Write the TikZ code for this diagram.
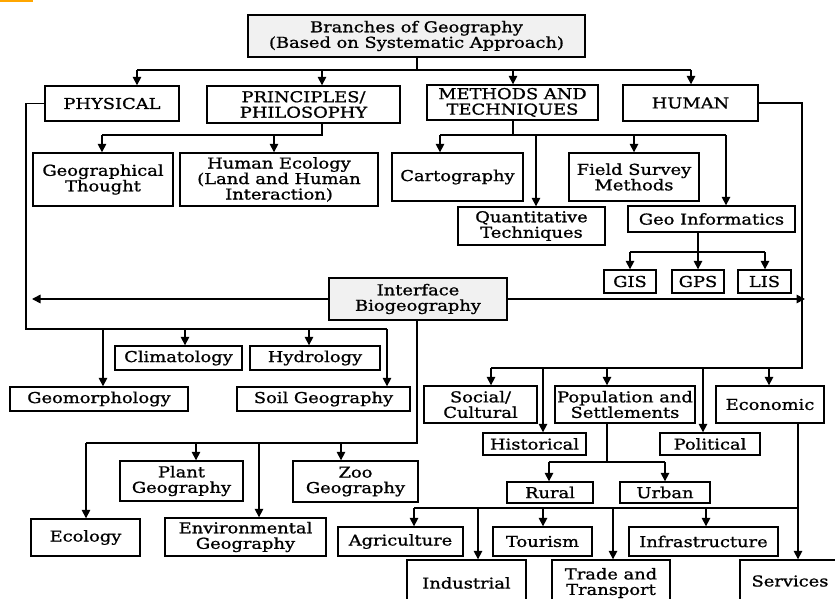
\documentclass[tikz,border=0pt]{standalone}
\usepackage{fontspec}
\setmainfont[FakeStretch=1.19,FakeBold=1]{DejaVu Serif}
\usetikzlibrary{arrows.meta}
\definecolor{scan}{HTML}{F1F1F1}
\tikzset{
  box/.style={draw, line width=1.4pt, align=center, inner sep=0pt, fill=white,
    font=\fontsize{15}{15.5}\selectfont},
  shaded/.style={box, fill=scan},
  ln/.style={line width=1.6pt},
  arr/.style={ln, -{Triangle[length=8.5pt,width=8.5pt]}}
}
\begin{document}
\begin{tikzpicture}[x=1pt,y=-1pt]
\useasboundingbox (0,0) rectangle (835,599);
\path[clip] (0,0) rectangle (835,599);
\fill[white] (0,0) rectangle (835,599);
\fill[orange!70!yellow] (0,0) rectangle (33,2);

% level 0/1
\node[shaded,minimum width=337pt,minimum height=42pt] (title) at (416.5,36) {Branches of Geography\\(Based on Systematic Approach)};
\node[box,minimum width=134pt,minimum height=35pt] (phys) at (112,103.5) {PHYSICAL};
\node[box,minimum width=193pt,minimum height=37pt] (princ) at (303.5,104.5) {PRINCIPLES/\\PHILOSOPHY};
\node[box,minimum width=171pt,minimum height=35pt] (meth) at (512.5,102.5) {METHODS AND\\TECHNIQUES};
\node[box,minimum width=135pt,minimum height=36pt] (human) at (690.5,103) {HUMAN};

% principles children
\node[box,minimum width=140pt,minimum height=53pt] (geoth) at (103,179.5) {Geographical\\Thought};
\node[box,minimum width=198pt,minimum height=53pt] (humeco) at (279,179.5) {Human Ecology\\(Land and Human\\Interaction)};

% methods children
\node[box,minimum width=131pt,minimum height=48pt] (carto) at (457.5,177) {Cartography};
\node[box,minimum width=130pt,minimum height=48pt] (field) at (634,177) {Field Survey\\Methods};
\node[box,minimum width=147pt,minimum height=38pt] (quant) at (531.5,226) {Quantitative\\Techniques};
\node[box,minimum width=167pt,minimum height=26pt] (geoinf) at (711.5,219) {Geo Informatics};
\node[box,minimum width=52pt,minimum height=23pt] (gis) at (630,281.5) {GIS};
\node[box,minimum width=52pt,minimum height=23pt] (gps) at (698,281.5) {GPS};
\node[box,minimum width=53pt,minimum height=23pt] (lis) at (764.5,281.5) {LIS};

% interface
\node[shaded,minimum width=178pt,minimum height=42pt] (iface) at (418,299) {Interface\\Biogeography};

% physical children
\node[box,minimum width=127pt,minimum height=24pt] (clim) at (178.5,358) {Climatology};
\node[box,minimum width=130pt,minimum height=24pt] (hydro) at (315,358) {Hydrology};
\node[box,minimum width=178pt,minimum height=24pt] (geom) at (99,399) {Geomorphology};
\node[box,minimum width=173pt,minimum height=24pt] (soil) at (323.5,399) {Soil Geography};

% biogeography children
\node[box,minimum width=123pt,minimum height=40pt] (plant) at (181.5,481) {Plant\\Geography};
\node[box,minimum width=125pt,minimum height=41pt] (zoo) at (355.5,481.5) {Zoo\\Geography};
\node[box,minimum width=109pt,minimum height=37pt] (ecol) at (85.5,537.5) {Ecology};
\node[box,minimum width=161pt,minimum height=38pt] (env) at (245.5,537) {Environmental\\Geography};

% human children
\node[box,minimum width=113pt,minimum height=37pt] (social) at (480.5,404.5) {Social/\\Cultural};
\node[box,minimum width=140pt,minimum height=37pt] (popul) at (625,404.5) {Population and\\Settlements};
\node[box,minimum width=108pt,minimum height=37pt] (econ) at (770,404.5) {Economic};
\node[box,minimum width=103pt,minimum height=22pt] (hist) at (534.5,444) {Historical};
\node[box,minimum width=100pt,minimum height=22pt] (polit) at (710,444) {Political};
\node[box,minimum width=86pt,minimum height=21pt] (rural) at (550,492.5) {Rural};
\node[box,minimum width=90pt,minimum height=21pt] (urban) at (665,492.5) {Urban};

% economic children
\node[box,minimum width=125pt,minimum height=29pt] (agri) at (400.5,541.5) {Agriculture};
\node[box,minimum width=99pt,minimum height=29pt] (tour) at (542.5,541.5) {Tourism};
\node[box,minimum width=149pt,minimum height=29pt] (infra) at (703.5,541.5) {Infrastructure};
\node[box,minimum width=119pt,minimum height=46pt] (indus) at (466.5,583) {Industrial};
\node[box,minimum width=118pt,minimum height=46pt] (trade) at (611,583) {Trade and\\Transport};
\node[box,minimum width=100pt,minimum height=42pt] (serv) at (790,581) {Services};

% ---- connectors ----
% title
\coordinate (t0) at (137,70);
\coordinate (t1) at (691,70);
\draw[ln] (title.south -| 417,0) -- (417,70);
\draw[ln] (t0) -- (t1);
\draw[arr] (t0) -- (t0 |- phys.north);
\draw[arr] (322,70) -- (322,70 |- princ.north);
\draw[arr] (513,70) -- (513,70 |- meth.north);
\draw[arr] (t1) -- (t1 |- human.north);

% principles
\draw[ln] (princ.south -| 322,0) -- (322,135) -- (102,135);
\draw[arr] (102,135) -- (102,135 |- geoth.north);
\draw[arr] (274,135) -- (274,135 |- humeco.north);

% methods
\draw[ln] (meth.south -| 513,0) -- (513,135);
\draw[ln] (440,135) -- (726,135);
\draw[arr] (440,135) -- (440,135 |- carto.north);
\draw[arr] (536,135) -- (536,135 |- quant.north);
\draw[arr] (634,135) -- (634,135 |- field.north);
\draw[arr] (726,135) -- (726,135 |- geoinf.north);

% geo informatics
\draw[ln] (geoinf.south -| 698,0) -- (698,252);
\draw[ln] (630,252) -- (765,252);
\draw[arr] (630,252) -- (630,252 |- gis.north);
\draw[arr] (698,252) -- (698,252 |- gps.north);
\draw[arr] (765,252) -- (765,252 |- lis.north);

% physical
\draw[ln] (phys.west) -- (26,103.5) -- (26,329) -- (387,329);
\draw[arr] (103,329) -- (103,329 |- geom.north);
\draw[arr] (185,329) -- (185,329 |- clim.north);
\draw[arr] (309,329) -- (309,329 |- hydro.north);
\draw[arr] (387,329) -- (387,329 |- soil.north);

% human
\draw[ln] (human.east) -- (802,103) -- (802,368) -- (491,368);
\draw[arr] (491,368) -- (491,368 |- social.north);
\draw[arr] (543,368) -- (543,368 |- hist.north);
\draw[arr] (607,368) -- (607,368 |- popul.north);
\draw[arr] (703,368) -- (703,368 |- polit.north);
\draw[arr] (769,368) -- (769,368 |- econ.north);

% interface
\draw[arr] (iface.west) -- (32,299);
\draw[arr] (iface.east) -- (805,299);
\draw[ln] (iface.south -| 417,0) -- (417,443) -- (86,443);
\draw[arr] (86,443) -- (86,443 |- ecol.north);
\draw[arr] (196,443) -- (196,443 |- plant.north);
\draw[arr] (259,443) -- (259,443 |- env.north);
\draw[arr] (341,443) -- (341,443 |- zoo.north);

% population
\draw[ln] (popul.south -| 607,0) -- (607,462);
\draw[ln] (549,462) -- (665,462);
\draw[arr] (549,462) -- (549,462 |- rural.north);
\draw[arr] (665,462) -- (665,462 |- urban.north);

% economic
\draw[arr] (econ.south -| 798,0) -- (798,0 |- serv.north);
\draw[ln] (414,508) -- (798,508);
\draw[arr] (414,508) -- (414,508 |- agri.north);
\draw[arr] (478,508) -- (478,508 |- indus.north);
\draw[arr] (543,508) -- (543,508 |- tour.north);
\draw[arr] (613,508) -- (613,508 |- trade.north);
\draw[arr] (706,508) -- (706,508 |- infra.north);
\end{tikzpicture}
\end{document}
